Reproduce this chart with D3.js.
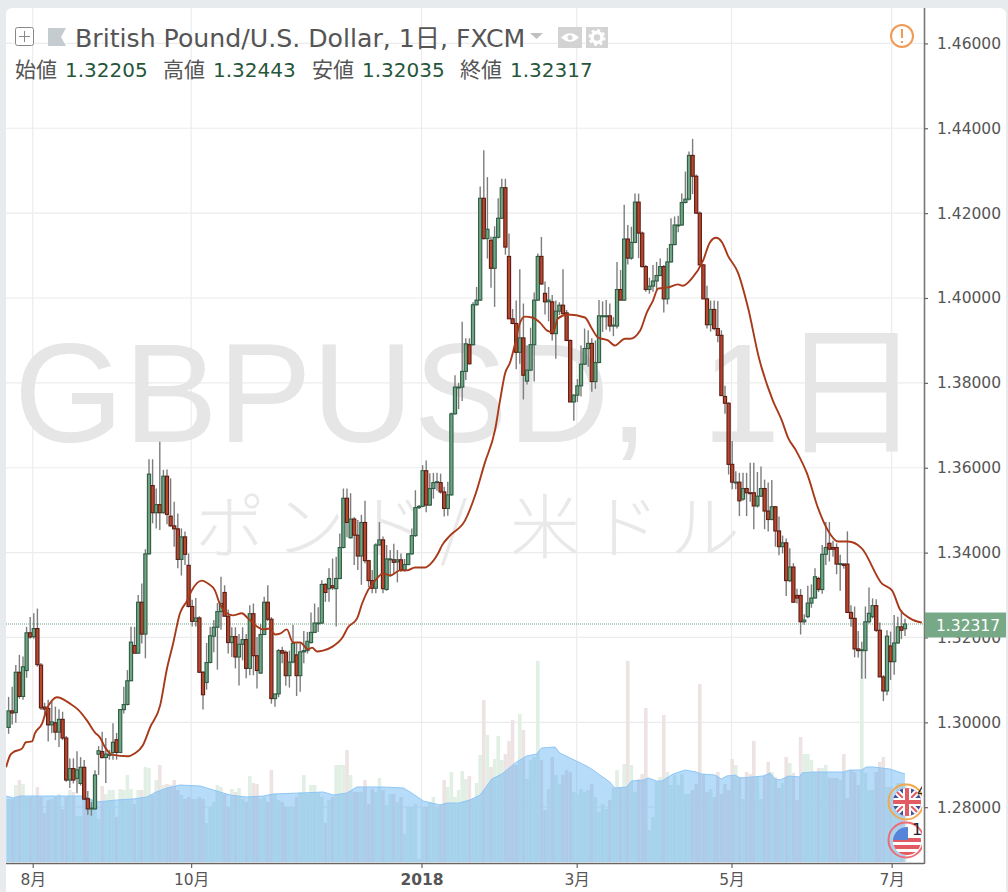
<!DOCTYPE html>
<html><head><meta charset="utf-8">
<style>html,body{margin:0;padding:0;background:#e7ebee;overflow:hidden}svg{display:block}</style>
<script src="https://cdn.jsdelivr.net/npm/d3@7"></script></head><body>
<svg id="c" width="1008" height="892"></svg>
<script>
const opens=[
1.2988,1.3027,1.3023,1.3118,1.3061,1.3122,1.3211,1.3202,1.3221,1.3135,
1.3036,1.3033,1.2994,1.2999,1.2977,1.3007,1.2963,1.2864,1.2891,1.2868,
1.2856,1.2894,1.2820,1.2796,1.2796,1.2925,1.2931,1.2917,1.2922,1.2929,
1.2959,1.2929,1.3030,1.3042,1.3098,1.3181,1.3163,1.3283,1.3208,1.3397,
1.3558,1.3494,1.3513,1.3494,1.3580,1.3486,1.3463,1.3456,1.3384,1.3437,
1.3370,1.3273,1.3238,1.3246,1.3118,1.3094,1.3141,1.3203,1.3224,1.3261,
1.3306,1.3250,1.3188,1.3202,1.3154,1.3184,1.3195,1.3127,1.3256,1.3157,
1.3116,1.3207,1.3283,1.3243,1.3056,1.3067,1.3169,1.3165,1.3110,1.3142,
1.3159,1.3110,1.3166,1.3169,1.3188,1.3212,1.3232,1.3234,1.3325,1.3315,
1.3322,1.3315,1.3339,1.3412,1.3528,1.3435,1.3479,1.3441,1.3392,1.3471,
1.3381,1.3334,1.3316,1.3418,1.3430,1.3313,1.3383,1.3383,1.3378,1.3383,
1.3359,1.3372,1.3397,1.3440,1.3506,1.3509,1.3593,1.3512,1.3551,1.3565,
1.3565,1.3543,1.3504,1.3536,1.3727,1.3788,1.3790,1.3827,1.3890,1.3890,
1.3984,1.3995,1.4235,1.4140,1.4136,1.4070,1.4143,1.4188,1.4260,1.4098,
1.3951,1.3940,1.3872,1.3906,1.3804,1.3830,1.3890,1.3995,1.4098,1.4011,
1.3991,1.3991,1.3916,1.3969,1.3983,1.3965,1.3900,1.3755,1.3771,1.3793,
1.3844,1.3881,1.3893,1.3803,1.3848,1.3956,1.3956,1.3958,1.3934,1.3934,
1.4020,1.3995,1.4139,1.4094,1.4131,1.4226,1.4153,1.4074,1.4020,1.4028,
1.4040,1.4053,1.4074,1.3998,1.4085,1.4126,1.4170,1.4172,1.4225,1.4233,
1.4336,1.4287,1.4200,1.4078,1.3998,1.3937,1.3973,1.3928,1.3912,1.3768,
1.3752,1.3608,1.3564,1.3566,1.3526,1.3551,1.3541,1.3541,1.3510,1.3533,
1.3551,1.3498,1.3478,1.3508,1.3451,1.3414,1.3423,1.3334,1.3366,1.3299,
1.3299,1.3237,1.3249,1.3281,1.3293,1.3339,1.3313,1.3396,1.3422,1.3412,
1.3412,1.3372,1.3373,1.3373,1.3259,1.3245,1.3173,1.3169,1.3169,1.3237,
1.3249,1.3275,1.3217,1.3107,1.3074,1.3180,1.3143,1.3187,1.3225,1.32205];
const highs=[
1.3060,1.3084,1.3135,1.3159,1.3155,1.3225,1.3248,1.3257,1.3268,1.3140,
1.3046,1.3053,1.3049,1.3037,1.3031,1.3025,1.2968,1.2915,1.2915,1.2932,
1.2918,1.2911,1.2838,1.2812,1.2887,1.2944,1.2978,1.2963,1.2935,1.2998,
1.2975,1.3030,1.3084,1.3123,1.3225,1.3225,1.3300,1.3327,1.3408,1.3620,
1.3620,1.3551,1.3661,1.3595,1.3596,1.3575,1.3520,1.3492,1.3457,1.3450,
1.3398,1.3289,1.3293,1.3250,1.3121,1.3187,1.3225,1.3241,1.3281,1.3343,
1.3323,1.3266,1.3224,1.3224,1.3208,1.3224,1.3208,1.3276,1.3280,1.3201,
1.3232,1.3296,1.3323,1.3248,1.3067,1.3173,1.3178,1.3169,1.3169,1.3230,
1.3186,1.3186,1.3215,1.3213,1.3259,1.3280,1.3271,1.3335,1.3328,1.3363,
1.3386,1.3390,1.3445,1.3551,1.3551,1.3540,1.3484,1.3477,1.3489,1.3522,
1.3383,1.3359,1.3422,1.3472,1.3438,1.3418,1.3406,1.3421,1.3406,1.3398,
1.3385,1.3399,1.3457,1.3547,1.3512,1.3606,1.3617,1.3587,1.3588,1.3588,
1.3586,1.3555,1.3567,1.3730,1.3818,1.3800,1.3944,1.3905,1.3905,1.3990,
1.4026,1.4263,1.4348,1.4285,1.4145,1.4169,1.4235,1.4281,1.4281,1.4152,
1.3974,1.3994,1.4068,1.3987,1.3888,1.3930,1.4013,1.4105,1.4144,1.4039,
1.4026,1.4007,1.3994,1.3990,1.4068,1.3972,1.3902,1.3773,1.3809,1.3888,
1.3928,1.3924,1.3905,1.3900,1.3995,1.3992,1.3995,1.3987,1.3955,1.4085,
1.4066,1.4220,1.4172,1.4168,1.4246,1.4246,1.4157,1.4078,1.4048,1.4078,
1.4085,1.4093,1.4078,1.4118,1.4188,1.4192,1.4194,1.4246,1.4298,1.4345,
1.4375,1.4291,1.4204,1.4080,1.4029,1.3994,1.3994,1.3993,1.3924,1.3793,
1.3754,1.3663,1.3592,1.3588,1.3588,1.3588,1.3612,1.3612,1.3590,1.3603,
1.3572,1.3565,1.3571,1.3510,1.3485,1.3440,1.3433,1.3410,1.3375,1.3315,
1.3314,1.3255,1.3322,1.3325,1.3363,1.3343,1.3418,1.3472,1.3472,1.3428,
1.3422,1.3395,1.3375,1.3450,1.3276,1.3273,1.3215,1.3190,1.3273,1.3318,
1.3292,1.3290,1.3235,1.3111,1.3217,1.3214,1.3253,1.3249,1.3264,1.32443];
const lows=[
1.2973,1.2995,1.2999,1.3056,1.3053,1.3105,1.3197,1.3197,1.3131,1.3029,
1.3012,1.2955,1.2974,1.2958,1.2942,1.2958,1.2860,1.2845,1.2856,1.2833,
1.2851,1.2817,1.2782,1.2780,1.2794,1.2876,1.2915,1.2857,1.2912,1.2912,
1.2912,1.2927,1.3021,1.3040,1.3097,1.3163,1.3161,1.3186,1.3151,1.3395,
1.3469,1.3457,1.3453,1.3492,1.3467,1.3461,1.3414,1.3363,1.3346,1.3371,
1.3271,1.3226,1.3226,1.3116,1.3030,1.3077,1.3139,1.3165,1.3124,1.3218,
1.3250,1.3162,1.3154,1.3127,1.3087,1.3146,1.3104,1.3111,1.3111,1.3080,
1.3114,1.3205,1.3239,1.3044,1.3037,1.3059,1.3139,1.3086,1.3082,1.3139,
1.3062,1.3072,1.3139,1.3162,1.3186,1.3210,1.3213,1.3232,1.3284,1.3284,
1.3312,1.3226,1.3337,1.3410,1.3436,1.3433,1.3371,1.3359,1.3324,1.3375,
1.3319,1.3304,1.3304,1.3416,1.3304,1.3310,1.3343,1.3351,1.3330,1.3355,
1.3355,1.3370,1.3395,1.3437,1.3503,1.3507,1.3495,1.3510,1.3527,1.3546,
1.3539,1.3485,1.3487,1.3534,1.3725,1.3738,1.3757,1.3807,1.3843,1.3888,
1.3982,1.3993,1.4138,1.4093,1.4024,1.3979,1.4140,1.4186,1.4102,1.3951,
1.3938,1.3832,1.3845,1.3761,1.3796,1.3828,1.3803,1.3993,1.4031,1.3961,
1.3945,1.3900,1.3857,1.3960,1.3961,1.3898,1.3755,1.3711,1.3755,1.3768,
1.3842,1.3838,1.3779,1.3786,1.3846,1.3920,1.3925,1.3921,1.3910,1.3928,
1.3995,1.3993,1.4079,1.4090,1.4129,1.4094,1.4072,1.4015,1.4010,1.4015,
1.4020,1.4051,1.3966,1.3985,1.4083,1.4124,1.4155,1.4170,1.4223,1.4230,
1.4245,1.4198,1.4078,1.3998,1.3928,1.3921,1.3924,1.3896,1.3770,1.3727,
1.3584,1.3549,1.3549,1.3486,1.3522,1.3486,1.3520,1.3455,1.3506,1.3531,
1.3455,1.3450,1.3476,1.3414,1.3394,1.3398,1.3298,1.3330,1.3283,1.3280,
1.3207,1.3230,1.3245,1.3270,1.3291,1.3307,1.3303,1.3371,1.3379,1.3390,
1.3349,1.3310,1.3362,1.3259,1.3225,1.3153,1.3153,1.3103,1.3103,1.3233,
1.3245,1.3213,1.3107,1.3050,1.3064,1.3100,1.3112,1.3185,1.3196,1.32035];
const closes=[
1.3027,1.3022,1.3118,1.3061,1.3131,1.3211,1.3201,1.3221,1.3136,1.3034,
1.3031,1.2994,1.3001,1.2977,1.3007,1.2963,1.2864,1.2891,1.2864,1.2888,
1.2894,1.2819,1.2796,1.2798,1.2876,1.2933,1.2917,1.2925,1.2925,1.2953,
1.2929,1.3030,1.3042,1.3098,1.3189,1.3163,1.3283,1.3208,1.3397,1.3585,
1.3494,1.3513,1.3494,1.3580,1.3490,1.3463,1.3456,1.3384,1.3437,1.3396,
1.3273,1.3238,1.3246,1.3118,1.3065,1.3141,1.3204,1.3224,1.3261,1.3280,
1.3250,1.3188,1.3202,1.3154,1.3184,1.3195,1.3127,1.3256,1.3157,1.3122,
1.3207,1.3283,1.3243,1.3056,1.3067,1.3169,1.3163,1.3110,1.3142,1.3186,
1.3110,1.3166,1.3169,1.3191,1.3212,1.3234,1.3234,1.3325,1.3306,1.3339,
1.3317,1.3339,1.3412,1.3528,1.3471,1.3479,1.3441,1.3392,1.3471,1.3381,
1.3334,1.3316,1.3418,1.3430,1.3315,1.3385,1.3385,1.3377,1.3383,1.3359,
1.3372,1.3397,1.3440,1.3506,1.3509,1.3593,1.3512,1.3551,1.3565,1.3567,
1.3543,1.3504,1.3536,1.3727,1.3790,1.3790,1.3827,1.3892,1.3845,1.3984,
1.3995,1.4235,1.4140,1.4162,1.4070,1.4143,1.4188,1.4260,1.4120,1.3951,
1.3940,1.3872,1.3906,1.3818,1.3830,1.3890,1.3995,1.4098,1.4033,1.3991,
1.3995,1.3916,1.3969,1.3983,1.3963,1.3900,1.3755,1.3771,1.3793,1.3844,
1.3881,1.3893,1.3803,1.3848,1.3958,1.3958,1.3958,1.3934,1.3936,1.4020,
1.3995,1.4139,1.4094,1.4131,1.4226,1.4153,1.4074,1.4020,1.4028,1.4040,
1.4053,1.4074,1.3998,1.4085,1.4126,1.4172,1.4172,1.4225,1.4233,1.4336,
1.4287,1.4200,1.4078,1.3998,1.3937,1.3973,1.3928,1.3912,1.3770,1.3752,
1.3608,1.3566,1.3566,1.3522,1.3551,1.3541,1.3539,1.3510,1.3533,1.3551,
1.3498,1.3478,1.3508,1.3451,1.3414,1.3423,1.3334,1.3366,1.3283,1.3293,
1.3237,1.3241,1.3281,1.3293,1.3343,1.3313,1.3396,1.3412,1.3408,1.3408,
1.3373,1.3374,1.3370,1.3259,1.3245,1.3173,1.3169,1.3171,1.3237,1.3257,
1.3275,1.3217,1.3107,1.3074,1.3203,1.3143,1.3187,1.3225,1.3217,1.32317];
const volumes=[
63,63,77,82,78,65,65,65,75,65,49,62,63,65,68,53,65,72,70,46,
46,65,65,62,62,43,76,68,72,72,45,73,72,87,73,58,72,72,95,94,
67,82,97,77,78,77,82,72,67,63,65,63,63,65,63,39,55,60,77,75,
68,55,73,70,74,63,60,86,79,78,63,65,60,92,68,62,60,55,55,55,
65,70,87,68,77,77,70,65,39,62,65,97,97,97,112,87,70,70,70,82,
58,73,70,84,72,57,68,68,60,65,28,55,55,58,3,55,55,60,65,55,
57,82,75,90,65,72,91,83,86,63,79,107,162,127,95,103,126,102,108,121,
142,97,148,132,83,102,105,201,102,52,73,105,87,78,87,92,90,70,68,73,
70,72,78,65,50,58,53,62,74,92,75,98,201,97,70,83,88,154,32,45,
80,85,147,90,77,87,77,88,68,68,72,78,178,88,70,73,65,90,68,78,
72,103,97,85,63,90,88,121,85,63,87,100,90,85,74,79,105,99,89,62,
125,108,108,102,90,94,94,97,84,84,84,82,108,64,92,90,77,212,89,72,
72,90,100,105,75,75,65,79,79,79];
const areaBars=[-0.7,1.3,3.2,9.6,20.8,24.5,30,34.6,38.4,41,44,47.6,53.2,56.9,61.5,66,70.8,73.5,81,87.4,90.2,94,96.7,104,109.7,112.4,115.2,119.8,121.7,125,128.1,131,134.2,137,141.1,143.9,146.7,148,151.8,153.1,160,161.5,167,168.4,171.7,173,176.3,177.7,180,181.4,184.6,187.9,191,192.5,196.2,198,199.5,201.8,203.2,209.6,211.5,212.9,214.3,216.6,219.8,220.3,223.5,231.8,233.7,236.9,238.3,240.2,244.8,249];
const areaValues=[66,64,66,66,66,60,62,63,65,70,74,77,76,72,67,65,66,68,69,70,67,69,75,75,74,68,61,57,59,59,62,67,83,88,100,106,108,114,115,109,97,94,80,74,75,81,82,84,81,81,88,92,90,88,87,83,86,87,84,86,89,83,82,86,85,89,90,90,92,92,95,95,93,88];
const maBars=[-0.7,0.4,1.2,3.7,4.8,6.5,7.3,9.3,10.7,12.1,13.4,17.1,19.3,21.8,24,25.4,26.8,28.7,33.2,35.1,37.3,39.3,42.1,44,45.7,47.6,49.6,50.9,53.7,55.4,57.3,58.7,60.7,62.3,64.8,66.5,70.7,72.6,74,75.4,77.3,79,81,83.2,84.3,85.7,87.3,90.1,92.6,94.3,96.8,98.2,99.8,102.3,104,106,108.7,110.7,112.9,115.7,117.6,119.3,120.4,122.6,126.8,129.6,132.3,135.1,136.5,137.9,139.3,140.7,142,143.4,145.4,147.6,149.6,151.2,152.6,155.4,160.1,162,163.7,166.5,168.4,171.2,172.6,175.4,177.3,179,180.4,183.2,185.9,187.3,189.8,192.9,194.8,196.5,198.2,199.8,202.6,205.4,208.4,212.3,214.8,216.5,218.7,221.8,224.8,227.6,230.4,233.2,237,242.6,245.4,247.6,250.4,253.7];
const maValues=[1.2894,1.2922,1.2929,1.2938,1.2953,1.2955,1.2974,1.2997,1.3033,1.3052,1.3059,1.3044,1.3030,1.3004,1.2976,1.2964,1.2941,1.2924,1.2920,1.2927,1.2946,1.2988,1.3040,1.3127,1.3186,1.3257,1.3287,1.3311,1.3334,1.3327,1.3311,1.3278,1.3257,1.3252,1.3257,1.3245,1.3219,1.3221,1.3207,1.3209,1.3219,1.3188,1.3188,1.3172,1.3176,1.3167,1.3169,1.3179,1.3198,1.3224,1.3245,1.3280,1.3311,1.3339,1.3351,1.3346,1.3358,1.3358,1.3365,1.3365,1.3377,1.3398,1.3417,1.3440,1.3476,1.3535,1.3612,1.3688,1.3758,1.3822,1.3848,1.3893,1.3940,1.3956,1.3954,1.3942,1.3923,1.3919,1.3952,1.3961,1.3954,1.3928,1.3907,1.3900,1.3888,1.3904,1.3904,1.3923,1.3966,1.3994,1.4022,1.4025,1.4032,1.4029,1.4046,1.4088,1.4131,1.4142,1.4131,1.4100,1.4060,1.3977,1.3860,1.3758,1.3711,1.3671,1.3641,1.3586,1.3506,1.3452,1.3426,1.3426,1.3410,1.3327,1.3311,1.3266,1.3245,1.3235];
const priceTicks=[1.28,1.30,1.32,1.34,1.36,1.38,1.40,1.42,1.44,1.46];
const monthTicks=[6.7,50.7,114.7,157.8,200.8,245.3];
const monthLabels=["8月","10月","2018","3月","5月","7月"];
const lastPrice=1.32317;
const titleText="British Pound/U.S. Dollar, 1日, FXCM";
const ohlcNames=["始値","高値","安値","終値"];
const ohlcValues=["1.32205","1.32443","1.32035","1.32317"];

const svg=d3.select("#c");
const L=6,R=924,T=8,B=862;
const x=d3.scaleLinear().domain([0,249]).range([8.6,905]);
const y=d3.scaleLinear().domain([1.28,1.46]).range([807.2,43.4]);
const v=d3.scaleLinear().domain([0,200]).range([B,B-200]);
const UI='"DejaVu Sans",sans-serif';
const txt="#555";

const defs=svg.append("defs");
defs.append("clipPath").attr("id","plot").append("rect").attr("x",L).attr("y",T).attr("width",R-L-1).attr("height",B-T);
defs.append("clipPath").attr("id","flags").append("rect").attr("x",880).attr("y",770).attr("width",42).attr("height",92);
defs.append("clipPath").attr("id","ukc").append("circle").attr("cx",907).attr("cy",802).attr("r",14);
defs.append("clipPath").attr("id","usc").append("circle").attr("cx",907).attr("cy",841).attr("r",14);

svg.append("rect").attr("x",L).attr("y",T).attr("width",1000).attr("height",900).attr("rx",6).attr("fill","#fff");

const plot=svg.append("g").attr("clip-path","url(#plot)");
// grid
plot.append("g").selectAll("line").data(priceTicks).join("line")
 .attr("x1",L).attr("x2",R).attr("y1",d=>y(d)).attr("y2",d=>y(d)).attr("stroke","#ebeced").attr("stroke-width",1.2);
plot.append("g").selectAll("line").data(monthTicks).join("line")
 .attr("x1",d=>x(d)).attr("x2",d=>x(d)).attr("y1",T).attr("y2",B).attr("stroke","#ebeced").attr("stroke-width",1.2);
// watermark
const wm=plot.append("text").attr("x",14).attr("y",442).attr("font-family",'"Liberation Sans","Noto Sans CJK JP"').attr("font-size",141).attr("fill","#e6e6e6");
wm.append("tspan").text("GBPUSD, ");
wm.append("tspan").attr("dx",14).text("1日");
plot.append("text").attr("x","195 275 355 440 480 510 590 670").attr("y",553).attr("font-family",'"Noto Sans CJK JP"').attr("font-weight",300).attr("font-size",70).attr("fill","#e9e9e9").text("ポンド/ 米ドル");
// volume
const bw=3.6;
plot.append("g").selectAll("rect").data(volumes).join("rect")
 .attr("x",(d,i)=>x(i)-bw/2).attr("width",bw).attr("y",d=>v(d)).attr("height",d=>B-v(d))
 .attr("fill",(d,i)=>closes[i]>=opens[i]?"#e2efe5":"#eee3e3");
const areaPts=areaBars.map((b,i)=>[b,areaValues[i]]);
plot.append("path").datum(areaPts).attr("d",d3.area().x(d=>x(d[0])).y0(B).y1(d=>v(d[1]))).attr("fill","rgb(79,170,243)").attr("fill-opacity",.41);
plot.append("path").datum(areaPts).attr("d",d3.line().x(d=>x(d[0])).y(d=>v(d[1]))).attr("fill","none").attr("stroke","#8ec6f5").attr("stroke-width",1);
// last-price dotted line
plot.append("line").attr("x1",L).attr("x2",R).attr("y1",y(lastPrice)).attr("y2",y(lastPrice)).attr("stroke","#6fa37f").attr("stroke-width",1).attr("stroke-dasharray","1 1");
// candles
const idx=d3.range(opens.length);
plot.append("g").selectAll("line").data(idx).join("line")
 .attr("x1",i=>x(i)).attr("x2",i=>x(i)).attr("y1",i=>y(highs[i])).attr("y2",i=>y(lows[i])).attr("stroke","#7d7d7d").attr("stroke-width",1.4);
plot.append("g").selectAll("rect").data(idx).join("rect")
 .attr("x",i=>x(i)-1.6).attr("width",3.2)
 .attr("y",i=>y(Math.max(opens[i],closes[i])))
 .attr("height",i=>Math.max(.6,Math.abs(y(opens[i])-y(closes[i]))))
 .attr("fill",i=>closes[i]>=opens[i]?"#6fa585":"#b9472d")
 .attr("stroke",i=>closes[i]>=opens[i]?"#2f5c42":"#5c1c14").attr("stroke-width",1.1);
// MA
plot.append("path").datum(maBars.map((b,i)=>[b,maValues[i]]))
 .attr("d",d3.line().x(d=>x(d[0])).y(d=>y(d[1])).curve(d3.curveMonotoneX)).attr("fill","none").attr("stroke","#a83a1a").attr("stroke-width",1.9);

// axes
const ay=svg.append("g").attr("transform",`translate(${R},0)`).call(d3.axisRight(y).tickValues(priceTicks).tickFormat(d3.format(".5f")).tickSize(4).tickPadding(9));
ay.selectAll("text").attr("font-family",UI).attr("font-size",15.5).attr("fill",txt);
ay.selectAll("line").attr("stroke","#666").attr("stroke-width",1.2);
ay.select(".domain").attr("d",`M0.5,${T}V${B+2}`).attr("stroke","#777").attr("stroke-width",1.6);
const ax=svg.append("g").attr("transform",`translate(0,${B+1})`).call(d3.axisBottom(x).tickValues(monthTicks).tickFormat((d,i)=>monthLabels[i]).tickSize(5).tickPadding(6));
ax.selectAll("text").attr("font-family",'"DejaVu Sans","Noto Sans CJK JP"').attr("font-size",15.5).attr("fill",txt).attr("font-weight",(d,i)=>monthLabels[i]==="2018"?"bold":"normal");
ax.selectAll("line").attr("stroke","#666").attr("stroke-width",1.2);
ax.select(".domain").attr("d",`M${L},0.5H${R}`).attr("stroke","#666").attr("stroke-width",1.6);

// price label
svg.append("rect").attr("x",R+1).attr("y",y(lastPrice)-11.5).attr("width",81).attr("height",25).attr("fill","#78a987");
svg.append("text").attr("x",936).attr("y",y(lastPrice)+6.5).attr("font-family",UI).attr("font-size",15.5).attr("fill","#fff").text(lastPrice.toFixed(5));

// header
const h=svg.append("g").attr("font-family",'"DejaVu Sans","Noto Sans CJK JP"');
h.append("rect").attr("x",15.5).attr("y",27.5).attr("width",18).attr("height",18).attr("rx",2).attr("fill","#fff").attr("stroke","#888");
h.append("path").attr("d","M24.5,31V42M19,36.5H30").attr("stroke","#888").attr("fill","none");
h.append("path").attr("d","M48,28H66L61,37L66,46H48Z").attr("fill","#c5ccd0");
h.append("text").attr("x",75).attr("y",47).attr("font-size",25.2).attr("fill",txt).text(titleText);
h.append("path").attr("d","M530,33H543L536.5,39Z").attr("fill","#c0c0c0");
h.append("rect").attr("x",558).attr("y",27).attr("width",24).attr("height",21).attr("fill","#d3d3d3");
h.append("path").attr("d","M561,37.5Q570,29 579,37.5Q570,46 561,37.5Z").attr("fill","#fff");
h.append("circle").attr("cx",570).attr("cy",37.5).attr("r",2.5).attr("fill","#d3d3d3");
h.append("rect").attr("x",586).attr("y",27).attr("width",22).attr("height",21).attr("fill","#d3d3d3");
h.append("circle").attr("cx",597).attr("cy",37.5).attr("r",5).attr("fill","none").attr("stroke","#fff").attr("stroke-width",3.5);
h.append("circle").attr("cx",597).attr("cy",37.5).attr("r",7.5).attr("fill","none").attr("stroke","#fff").attr("stroke-width",2).attr("stroke-dasharray","3 2.9");
const ox=[15,163,312,460], vx=[65,213,362,510];
ohlcNames.forEach((n,i)=>{
 h.append("text").attr("x",ox[i]).attr("y",77).attr("font-size",21).attr("fill",txt).attr("font-family",'"Noto Sans CJK JP"').text(n);
 h.append("text").attr("x",vx[i]).attr("y",77).attr("font-size",20).attr("fill","#26563a").text(ohlcValues[i]);
});
// alert
svg.append("circle").attr("cx",902).attr("cy",36).attr("r",11).attr("fill","#fff").attr("stroke","#f09a55").attr("stroke-width",2);
svg.append("path").attr("d","M902,29V38M902,41V43").attr("stroke","#f09a55").attr("stroke-width",2);

// flags
const f=svg.append("g").attr("clip-path","url(#flags)");
f.append("circle").attr("cx",906).attr("cy",802).attr("r",17.5).attr("fill","none").attr("stroke","#f2a94e").attr("stroke-width",2);
const uk=f.append("g").attr("clip-path","url(#ukc)");
uk.append("rect").attr("x",890).attr("y",785).attr("width",34).attr("height",34).attr("fill","#46509a");
uk.append("path").attr("d","M890,785L924,819M924,785L890,819").attr("stroke","#fff").attr("stroke-width",6);
uk.append("path").attr("d","M890,785L924,819M924,785L890,819").attr("stroke","#e35b63").attr("stroke-width",2);
uk.append("path").attr("d","M907,785V819M890,802H924").attr("stroke","#fff").attr("stroke-width",8);
uk.append("path").attr("d","M907,785V819M890,802H924").attr("stroke","#e35b63").attr("stroke-width",4);
f.append("text").attr("x",917).attr("y",797).attr("font-family",UI).attr("font-size",16).attr("fill","#222").text("4");
f.append("circle").attr("cx",906).attr("cy",840).attr("r",17.5).attr("fill","none").attr("stroke","#ee6b75").attr("stroke-width",2);
const us=f.append("g").attr("clip-path","url(#usc)");
us.append("rect").attr("x",890).attr("y",825).attr("width",34).attr("height",34).attr("fill","#fff");
[838,845,852].forEach(t=>us.append("rect").attr("x",890).attr("y",t).attr("width",34).attr("height",4).attr("fill","#e25a62"));
us.append("rect").attr("x",892).attr("y",826).attr("width",16).attr("height",14).attr("fill","#5584d8");
f.append("text").attr("x",912).attr("y",835).attr("font-family",UI).attr("font-size",16).attr("fill","#222").text("1");
</script></body></html>
